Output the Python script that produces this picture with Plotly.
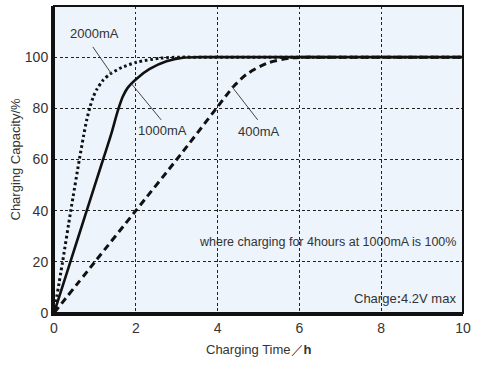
import plotly.graph_objects as go

# ---- data ----
x_2000 = [0, 0.21, 0.41, 0.62, 0.72, 0.80, 0.88, 0.96, 1.05, 1.20, 1.37, 1.66, 2.02, 2.59, 3.10, 3.6, 10]
y_2000 = [0, 20, 40, 60, 69, 75.5, 80.5, 84.5, 87.5, 91.0, 93.4, 96.0, 98.0, 99.6, 100, 100, 100]

x_1000 = [0, 0.40, 0.80, 1.20, 1.40, 1.56, 1.68, 1.80, 2.02, 2.34, 2.75, 3.15, 3.6, 10]
y_1000 = [0, 20, 40, 60, 70, 79.0, 84.5, 88.0, 91.6, 95.4, 98.4, 99.8, 100, 100]

x_400 = [0, 1.0, 2.0, 3.0, 3.97, 4.20, 4.40, 4.70, 5.20, 5.76, 6.2, 6.6, 10]
y_400 = [0, 20, 40, 60, 80, 84.8, 88.7, 93.2, 97.6, 99.6, 100, 100, 100]

x_ticks = [0, 2, 4, 6, 8, 10]
y_ticks = [0, 20, 40, 60, 80, 100]

labels = ["2000mA", "1000mA", "400mA"]
label_pos = [(1.0, 109.4), (2.66, 71.3), (5.0, 71.0)]
leader_from = [(0.95, 104.0), (1.90, 89.5), (4.34, 88.7)]
leader_to = [(1.41, 93.4), (2.62, 75.5), (4.98, 75.5)]

note_main = "where charging for 4hours at 1000mA is 100%"
note_charge = "Charge<b>:</b>4.2V max"
x_title = "Charging Time／<b>h</b>"
y_title = "Charging Capacity/%"

FONT = "Liberation Sans Narrow, Arial Narrow, Liberation Sans, Arial, sans-serif"
TXT = "#333333"

fig = go.Figure()
fig.add_trace(go.Scatter(x=x_2000, y=y_2000, mode="lines",
                         line=dict(color="#111111", width=3, dash="2.6px,2.8px", shape="spline", smoothing=0.7),
                         name="2000mA", hoverinfo="skip"))
fig.add_trace(go.Scatter(x=x_1000, y=y_1000, mode="lines",
                         line=dict(color="#111111", width=2.6, shape="spline", smoothing=0.9),
                         name="1000mA", hoverinfo="skip"))
fig.add_trace(go.Scatter(x=x_400, y=y_400, mode="lines",
                         line=dict(color="#111111", width=3, dash="7px,4.5px", shape="spline", smoothing=0.7),
                         name="400mA", hoverinfo="skip"))

for txt, (tx, ty), (fx, fy), (ex, ey) in zip(labels, label_pos, leader_from, leader_to):
    fig.add_shape(type="line", xref="x", yref="y", x0=fx, y0=fy, x1=ex, y1=ey,
                  line=dict(color="#444444", width=1))
    fig.add_annotation(x=tx, y=ty, xref="x", yref="y", text=txt, showarrow=False,
                       font=dict(family=FONT, size=13, color=TXT))

fig.add_annotation(x=1, y=(313 - 242) / 307, xref="paper", yref="paper", xanchor="right", yanchor="middle",
                   xshift=-5, text=note_main, showarrow=False,
                   font=dict(family=FONT, size=12.5, color=TXT))
fig.add_annotation(x=1, y=(313 - 298) / 307, xref="paper", yref="paper", xanchor="right", yanchor="middle",
                   xshift=-5, text=note_charge, showarrow=False,
                   font=dict(family=FONT, size=13, color=TXT))

# axis titles
fig.add_annotation(x=0.5, y=0, xref="paper", yref="paper", xanchor="center", yanchor="middle",
                   yshift=-36, text=x_title, showarrow=False,
                   font=dict(family=FONT, size=13, color=TXT))
fig.add_annotation(x=0, y=0.5, xref="paper", yref="paper", xanchor="center", yanchor="middle",
                   xshift=-39, textangle=-90, text=y_title, showarrow=False,
                   font=dict(family=FONT, size=13, color=TXT))

# frame
fig.add_shape(type="rect", xref="paper", yref="paper", x0=0, y0=0, x1=1, y1=1,
              line=dict(color="#111111", width=2), layer="above")

fig.update_layout(
    width=480, height=366,
    margin=dict(l=54, r=17, t=6, b=53, autoexpand=False),
    paper_bgcolor="white",
    plot_bgcolor="#edf4fb",
    showlegend=False,
    hovermode=False,
    font=dict(family=FONT, size=13, color=TXT),
)
fig.update_xaxes(range=[0, 10], tickvals=x_ticks, ticktext=[str(v) for v in x_ticks],
                 showgrid=True, gridcolor="#222222", gridwidth=1, griddash="3px,2.5px",
                 zeroline=False, showline=True, linecolor="#111111", linewidth=3,
                 ticks="", ticklen=0, automargin=False,
                 tickfont=dict(family=FONT, size=14, color=TXT))
fig.update_yaxes(range=[0, 120], tickvals=y_ticks, ticktext=[str(v) for v in y_ticks],
                 showgrid=True, gridcolor="#222222", gridwidth=1, griddash="3px,2.5px",
                 zeroline=False, showline=True, linecolor="#111111", linewidth=3,
                 ticks="", ticklen=0, automargin=False,
                 tickfont=dict(family=FONT, size=14, color=TXT))

fig.write_html("out.html", config={"displayModeBar": False, "staticPlot": True},
               post_script="document.body.style.margin='0px';document.body.style.overflow='hidden';")
